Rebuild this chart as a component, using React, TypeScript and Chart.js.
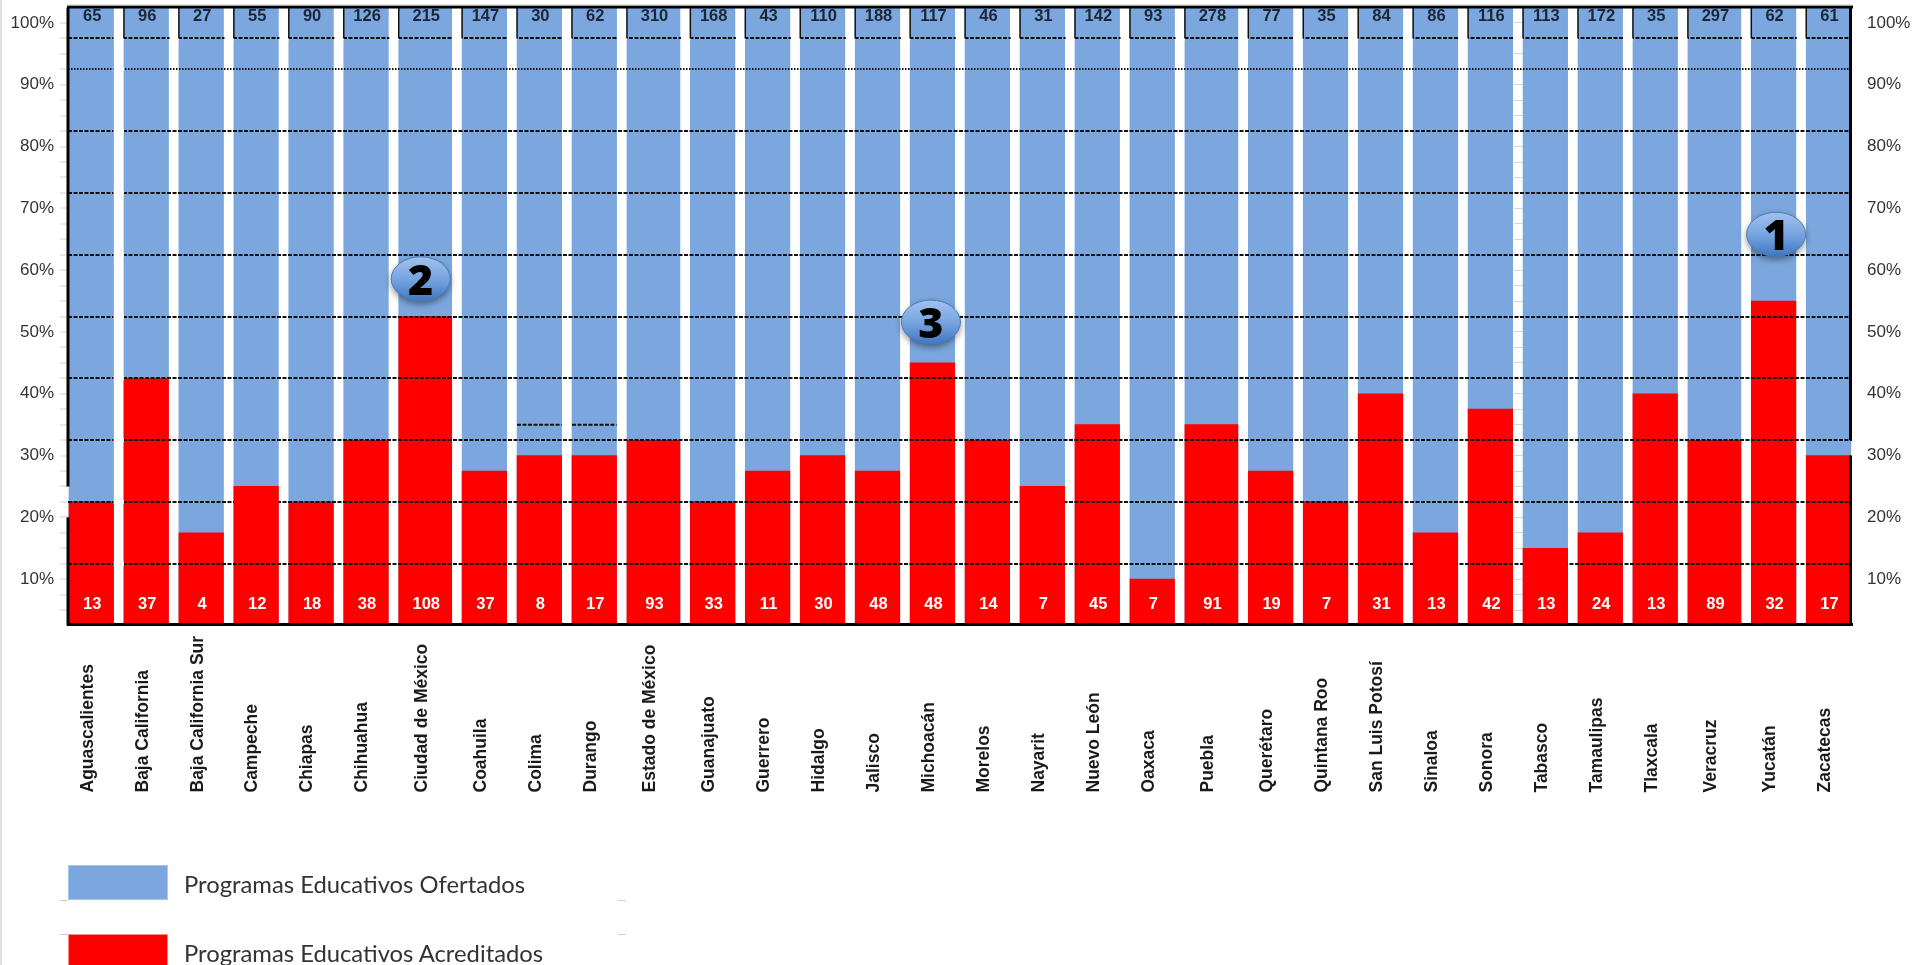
import React, { useEffect, useRef } from "react";
import { Chart, registerables } from "chart.js";

Chart.register(...registerables);

const STATES = ["Aguascalientes","Baja California","Baja California Sur","Campeche","Chiapas","Chihuahua","Ciudad de México","Coahuila","Colima","Durango","Estado de México","Guanajuato","Guerrero","Hidalgo","Jalisco","Michoacán","Morelos","Nayarit","Nuevo León","Oaxaca","Puebla","Querétaro","Quintana Roo","San Luis Potosí","Sinaloa","Sonora","Tabasco","Tamaulipas","Tlaxcala","Veracruz","Yucatán","Zacatecas"];
const OFFERED = [65,96,27,55,90,126,215,147,30,62,310,168,43,110,188,117,46,31,142,93,278,77,35,84,86,116,113,172,35,297,62,61];
const ACCREDITED = [13,37,4,12,18,38,108,37,8,17,93,33,11,30,48,48,14,7,45,7,91,19,7,31,13,42,13,24,13,89,32,17];
const ACCREDITED_PCT = [22.5,42.5,17.5,25,22.5,32.5,52.5,27.5,30,30,32.5,22.5,27.5,30,27.5,45,32.5,25,35,10,35,27.5,22.5,40,17.5,37.5,15,17.5,40,32.5,55,30];
const OFFERED_PCT = 102.5;
const GRID_VALUES = [12.5,22.5,32.5,42.5,52.5,62.5,72.5,82.5,92.5,97.5];
const GRID_BREAKS = [
  { value: 22.5, state: "Campeche" },
  { value: 22.5, state: "Nayarit" },
  { value: 12.5, state: "Sinaloa" },
  { value: 12.5, state: "Tabasco" },
];
const EXTRA_DASHES = [
  { value: 35, state: "Colima" },
  { value: 35, state: "Durango" },
];
const BADGES = [
  { rank: "1", state: "Yucatán", value: 65.8, shift: 2.5 },
  { rank: "2", state: "Ciudad de México", value: 58.6, shift: -4.5 },
  { rank: "3", state: "Michoacán", value: 51.6, shift: -1.5 },
];
const SERIES = ["Programas Educativos Ofertados", "Programas Educativos Acreditados"];

const BLUE = "#7ba7de";
const RED = "#ff0000";
const INK = "#111111";
const NORMAL_BAND = 54.95;
const WIDE_BAND = 63.4;
const NORMAL_BAR = 44.6;
const WIDE_BAR = 53;
const LABEL_SHIFT = -3.5;

const isWide = (i: number) => OFFERED[i] >= 200;
const bandOf = (i: number) => (isWide(i) ? WIDE_BAND : NORMAL_BAND);
const barOf = (i: number) => (isWide(i) ? WIDE_BAR : NORMAL_BAR);
const CENTERS = OFFERED.map((_, i) => {
  let c = bandOf(i) / 2;
  for (let k = 0; k < i; k++) c += bandOf(k);
  return c;
});
const pick = (wide: boolean, ys: (i: number) => number) =>
  STATES.map((_, i) => i).filter((i) => isWide(i) === wide).map((i) => ({ x: CENTERS[i], y: ys(i) }));

const zeroPad = (s: any) => {
  s.paddingTop = 0; s.paddingBottom = 0; s.paddingLeft = 0; s.paddingRight = 0;
};

const overlay = {
  id: "overlay",
  afterDraw(chart: any) {
    const { ctx, chartArea: a, scales } = chart;
    const X = scales.x, Y = scales.y;
    const left = (i: number) => X.getPixelForValue(CENTERS[i]) - barOf(i) / 2;
    const right = (i: number) => X.getPixelForValue(CENTERS[i]) + barOf(i) / 2;
    ctx.save();

    // gaps in the grid lines
    ctx.fillStyle = "#fff";
    for (const v of GRID_VALUES) {
      const y = Y.getPixelForValue(v);
      ctx.fillRect(right(0), y - 2, left(1) - right(0), 4);
    }
    const yTop = Y.getPixelForValue(97.5);
    for (let i = 1; i < STATES.length - 1; i++) ctx.fillRect(right(i) + 1, yTop - 2, left(i + 1) - right(i) - 1, 4);
    for (const b of GRID_BREAKS) {
      const i = STATES.indexOf(b.state);
      ctx.fillStyle = ACCREDITED_PCT[i] >= b.value ? RED : BLUE;
      ctx.fillRect(left(i), Y.getPixelForValue(b.value) - 2, barOf(i), 4);
    }

    // extra short dashes
    ctx.strokeStyle = INK;
    ctx.lineWidth = 2;
    ctx.setLineDash([4, 1.5]);
    for (const d of EXTRA_DASHES) {
      const i = STATES.indexOf(d.state);
      const y = Y.getPixelForValue(d.value);
      ctx.beginPath(); ctx.moveTo(left(i), y); ctx.lineTo(right(i), y); ctx.stroke();
    }
    ctx.setLineDash([]);

    // cell separators in the top row
    ctx.lineWidth = 1.5;
    for (let i = 1; i < STATES.length; i++) {
      ctx.beginPath(); ctx.moveTo(left(i), a.top); ctx.lineTo(left(i), yTop); ctx.stroke();
    }

    // frame
    ctx.strokeStyle = "#000";
    ctx.lineWidth = 3;
    const seg = (x1: number, y1: number, x2: number, y2: number) => {
      ctx.beginPath(); ctx.moveTo(x1, y1); ctx.lineTo(x2, y2); ctx.stroke();
    };
    seg(a.left - 1, a.top - 0.5, a.right + 1, a.top - 0.5);
    seg(a.left - 1, a.bottom - 1, a.right + 1, a.bottom - 1);
    seg(a.left, a.top, a.left, Y.getPixelForValue(25));
    seg(a.left, Y.getPixelForValue(20), a.left, a.bottom);
    seg(a.right - 1.5, a.top, a.right - 1.5, Y.getPixelForValue(32.5));
    seg(a.right - 1.5, Y.getPixelForValue(30), a.right - 1.5, a.bottom);
    ctx.strokeStyle = "#c8c8c8";
    ctx.lineWidth = 1;
    seg(a.left - 1, a.top - 2.5, a.right + 1, a.top - 2.5);

    // value labels
    ctx.textAlign = "center";
    ctx.textBaseline = "middle";
    ctx.font = "bold 16.5px 'Liberation Sans'";
    STATES.forEach((_, i) => {
      const x = X.getPixelForValue(CENTERS[i]) + 1;
      ctx.fillStyle = "#1c2736";
      ctx.fillText(String(OFFERED[i]), x, a.top + 9);
      ctx.fillStyle = "#ffffff";
      ctx.fillText(String(ACCREDITED[i]), x, a.bottom - 21.5);
    });

    // numbered badges
    for (const b of BADGES) {
      const i = STATES.indexOf(b.state);
      const cx = X.getPixelForValue(CENTERS[i]) + b.shift;
      const cy = Y.getPixelForValue(b.value);
      const rx = 29.5, ry = 22;
      const g = ctx.createLinearGradient(0, cy - ry, 0, cy + ry);
      g.addColorStop(0, "#a3c1ee");
      g.addColorStop(0.5, "#78a5e0");
      g.addColorStop(1, "#3f77c0");
      ctx.save();
      ctx.shadowColor = "rgba(0,0,0,0.45)";
      ctx.shadowBlur = 7;
      ctx.shadowOffsetY = 3;
      ctx.fillStyle = g;
      ctx.beginPath(); ctx.ellipse(cx, cy, rx, ry, 0, 0, Math.PI * 2); ctx.fill();
      ctx.restore();
      ctx.strokeStyle = "#4a7db5";
      ctx.lineWidth = 1;
      ctx.beginPath(); ctx.ellipse(cx, cy, rx, ry, 0, 0, Math.PI * 2); ctx.stroke();
      ctx.fillStyle = "#000";
      ctx.font = "800 43px 'Open Sans'";
      ctx.fillText(b.rank, cx, cy + 3.5);
    }
    ctx.restore();
  },
};

const yBase = { min: 2.5, max: 102.5 };
const stepTicks = { stepSize: 2.5, autoSkip: false, maxTicksLimit: 100 };
const tickLabel = (v: any) => (Number(v) % 10 === 0 ? `${v}%` : "");
const isGrid = (c: any) => c.tick && GRID_VALUES.includes(c.tick.value);
const isEnd = (c: any) => c.tick && (c.tick.value === 2.5 || c.tick.value === 102.5);
const yFont = { family: "'Liberation Sans'", size: 17 };

const swatch = (top: number, height: number, color: string, edge: string): React.CSSProperties => ({
  position: "absolute", left: 68, top, width: 100, height, background: color, boxSizing: "border-box", border: `1px solid ${edge}`,
});
const legendText = (top: number): React.CSSProperties => ({
  position: "absolute", left: 184, top, font: "23.8px Lato", color: "#333", whiteSpace: "nowrap", lineHeight: "26px",
});
const notch = (left: number, top: number): React.CSSProperties => ({
  position: "absolute", left, top, width: 8, height: 1, background: "#cfcfcf",
});

export default function App() {
  const ref = useRef<HTMLCanvasElement | null>(null);
  useEffect(() => {
    const bar = (label: string, wide: boolean, ys: (i: number) => number, color: string, order: number) => ({
      label,
      data: pick(wide, ys),
      backgroundColor: color,
      grouped: false,
      maxBarThickness: wide ? WIDE_BAR : NORMAL_BAR,
      barPercentage: 1,
      categoryPercentage: 1,
      order,
    });
    const chart = new Chart(ref.current as HTMLCanvasElement, {
      type: "bar",
      data: {
        datasets: [
          bar(SERIES[1], false, (i) => ACCREDITED_PCT[i], RED, 0),
          bar(SERIES[1], true, (i) => ACCREDITED_PCT[i], RED, 0),
          bar(SERIES[0], false, () => OFFERED_PCT, BLUE, 1),
          bar(SERIES[0], true, () => OFFERED_PCT, BLUE, 1),
        ],
      },
      options: {
        animation: false,
        responsive: false,
        layout: { padding: { top: 7.5, left: 0, right: 0, bottom: 0 } },
        plugins: { legend: { display: false }, tooltip: { enabled: false } },
        scales: {
          x: {
            type: "linear",
            offset: false,
            min: 4.18,
            max: 1788.18,
            grid: { display: false, offset: false },
            border: { display: false },
            afterBuildTicks: (s: any) => {
              s.ticks = CENTERS.map((value) => ({ value: value + LABEL_SHIFT }));
              s._getXAxisLabelAlignment = () => "left";
            },
            afterFit: (s: any) => { s.height = 339.5; zeroPad(s); },
            ticks: {
              autoSkip: false,
              minRotation: 90,
              maxRotation: 90,
              padding: 159,
              color: "#1a1a1a",
              font: { family: "'Liberation Sans'", size: 17.5, weight: "bold" },
              callback: (_: any, i: number) => STATES[i],
            },
          },
          y: {
            ...yBase,
            position: "left",
            afterFit: (s: any) => { s.width = 68; zeroPad(s); },
            border: { display: false, dash: (c: any) => (c.tick && c.tick.value === 92.5 ? [1.5, 1.5] : [4, 1.5]) },
            grid: {
              z: 1,
              tickLength: 8,
              tickWidth: 1,
              tickColor: (c: any) => (isEnd(c) ? "rgba(0,0,0,0)" : "#d2d2d2"),
              color: (c: any) => (isGrid(c) ? INK : "rgba(0,0,0,0)"),
              lineWidth: (c: any) => (isGrid(c) ? 2 : 0),
            },
            ticks: { ...stepTicks, padding: 6, color: "#333", font: yFont, callback: tickLabel },
          },
          yRight: {
            ...yBase,
            position: "right",
            afterFit: (s: any) => { s.width = 63; zeroPad(s); },
            border: { display: false },
            grid: { drawOnChartArea: false, drawTicks: false, tickLength: 0 },
            ticks: { ...stepTicks, padding: 15, color: "#333", font: yFont, callback: tickLabel },
          },
          yMid: {
            ...yBase,
            axis: "y",
            position: { x: CENTERS[26] - NORMAL_BAR / 2 },
            afterFit: zeroPad,
            border: { display: false },
            grid: {
              z: -1,
              drawOnChartArea: false,
              tickLength: 9,
              tickWidth: 1,
              tickColor: (c: any) => (isEnd(c) ? "rgba(0,0,0,0)" : "#d8d8d8"),
            },
            ticks: { ...stepTicks, display: false },
          },
        },
      } as any,
      plugins: [overlay],
    });
    return () => chart.destroy();
  }, []);

  return (
    <div style={{ position: "absolute", left: 0, top: 0, width: 1915, height: 965, overflow: "hidden", background: "#fff" }}>
      <div style={{ position: "absolute", left: 0, top: 0, width: 2, height: 965, background: "#dedede" }} />
      <canvas ref={ref} width={1915} height={965} style={{ position: "absolute", left: 0, top: 0, display: "block" }} />
      <div style={swatch(865, 35, BLUE, "#a9c6ec")} />
      <div style={legendText(871)}>{SERIES[0]}</div>
      <div style={swatch(934, 40, RED, "#ff8a8a")} />
      <div style={legendText(940)}>{SERIES[1]}</div>
      <div style={notch(60, 900)} />
      <div style={notch(618, 900)} />
      <div style={notch(60, 934)} />
      <div style={notch(618, 934)} />
    </div>
  );
}
